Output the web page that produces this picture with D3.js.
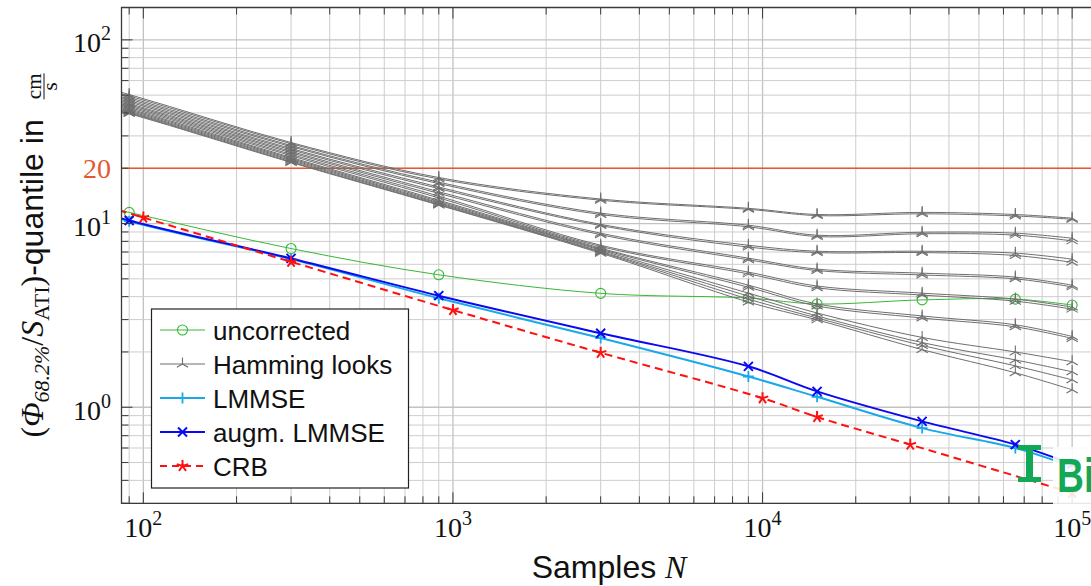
<!DOCTYPE html>
<html>
<head>
<meta charset="utf-8">
<script src="https://cdn.jsdelivr.net/npm/d3@7"></script>
<style>
  body { margin: 0; background: #fff; }
</style>
</head>
<body>
<svg id="canvas"></svg>
<script>
// sample counts
const samplesN   = [30, 90, 300, 900, 3000, 9000, 15000, 32768, 65536, 100000];
const samplesCRB = [30, 100, 300, 1000, 3000, 10000, 15000, 30000, 100000];

// series values (cm/s)
const uncorrected = [17.5, 11.5, 7.31, 5.26, 4.17, 3.93, 3.65, 3.84, 3.88, 3.60];
const lmmse       = [17.6, 10.3, 6.40, 3.92, 2.38, 1.47, 1.14, 0.77, 0.60, 0.475];
const augmLmmse   = [17.8, 10.4, 6.46, 4.05, 2.53, 1.67, 1.22, 0.838, 0.626, 0.49];
const crb         = [19.7, 10.78, 6.19, 3.38, 1.98, 1.12, 0.885, 0.626, 0.342];

const hammingLooks = [
    [83.7, 50.4, 27.6, 17.8, 13.6, 12.1, 11.2, 11.5, 11.2, 10.7],
    [82.2, 49.5, 27.2, 17.5, 13.4, 11.95, 11.05, 11.3, 11.0, 10.55],
    [80.5, 48.5, 26.6, 16.8, 11.4, 9.79, 8.64, 8.97, 8.86, 8.32],
    [79.0, 47.6, 26.2, 16.5, 11.2, 9.6, 8.5, 8.8, 8.65, 8.05],
    [77.5, 46.7, 25.6, 15.8, 9.9, 7.62, 7.07, 7.07, 6.9, 6.4],
    [76.2, 45.9, 25.2, 15.5, 9.75, 7.45, 6.95, 6.95, 6.7, 6.15],
    [74.7, 45.0, 24.7, 14.9, 8.86, 6.48, 5.65, 5.37, 5.11, 4.62],
    [73.5, 44.3, 24.3, 14.6, 8.7, 6.35, 5.55, 5.25, 5.0, 4.52],
    [72.4, 43.6, 23.8, 14.1, 7.62, 5.44, 4.57, 4.18, 3.88, 3.51],
    [71.2, 42.9, 23.4, 13.8, 7.5, 5.32, 4.47, 4.08, 3.78, 3.42],
    [70.1, 42.2, 22.9, 13.4, 7.34, 4.62, 3.65, 3.14, 2.81, 2.43],
    [69.1, 41.6, 22.6, 13.2, 7.25, 4.5, 3.56, 3.06, 2.74, 2.37],
    [68.1, 41.0, 22.3, 13.0, 7.16, 4.18, 3.26, 2.40, 2.0, 1.77],
    [67.2, 40.5, 22.0, 12.85, 7.05, 4.03, 3.14, 2.25, 1.81, 1.56],
    [66.6, 40.1, 21.7, 12.7, 6.98, 3.88, 3.06, 2.17, 1.68, 1.41],
    [65.9, 39.7, 21.5, 12.6, 6.9, 3.74, 2.99, 2.06, 1.54, 1.245]
];

// axes
const xTicks = [100, 1000, 10000, 100000];
const xTickExp = ["2", "3", "4", "5"];
const yTicks = [1, 10, 100];
const yTickExp = ["0", "1", "2"];
const threshold = 20;

const legendNames = ["uncorrected", "Hamming looks", "LMMSE", "augm. LMMSE", "CRB"];

const width = 1091,
    height = 586;

const serif = "'Liberation Serif', 'DejaVu Serif', serif";
const sans = "'Liberation Sans', Arial, sans-serif";

const svg = d3.select("#canvas")
    .attr("width", width)
    .attr("height", height)
    .style("display", "block");

const box = { left: 121.5, top: 7.5, bottom: 503.3, decade: 309.6 };

const scaleX = d3.scaleLog()
    .domain([85, 120000])
    .range([box.left, box.left + box.decade * Math.log10(120000 / 85)]);
const scaleY = d3.scaleLog()
    .domain([0.3, 150])
    .range([box.bottom, box.top]);

const [x0, x1] = scaleX.range();

svg.append("defs").append("clipPath").attr("id", "plotClip")
    .append("rect")
    .attr("x", x0).attr("y", box.top)
    .attr("width", x1 - x0).attr("height", box.bottom - box.top);

// grid
const xMinor = [], yMinor = [];
for (let d = 1; d <= 5; d++) for (let k = 2; k <= 9; k++) {
    const v = k * 10 ** d;
    if (v >= 85 && v <= 120000) xMinor.push(v);
}
for (let d = -1; d <= 2; d++) for (let k = 2; k <= 9; k++) {
    const v = k * 10 ** d;
    if (v > 0.3 && v < 150) yMinor.push(v);
}

const grid = svg.append("g").classed("grid", true);
grid.selectAll(".gx").data(xMinor.concat(xTicks)).join("line")
    .attr("x1", d => scaleX(d)).attr("x2", d => scaleX(d))
    .attr("y1", box.top).attr("y2", box.bottom)
    .attr("stroke", d => xTicks.includes(d) ? "#c2c2c2" : "#cdcdcd")
    .attr("stroke-width", d => xTicks.includes(d) ? 1.3 : 1);
grid.selectAll(".gy").data(yMinor.concat(yTicks)).join("line")
    .attr("y1", d => scaleY(d)).attr("y2", d => scaleY(d))
    .attr("x1", x0).attr("x2", x1)
    .attr("stroke", d => yTicks.includes(d) ? "#c2c2c2" : "#cdcdcd")
    .attr("stroke-width", d => yTicks.includes(d) ? 1.3 : 1);

// threshold line
svg.append("line")
    .attr("x1", x0).attr("x2", x1)
    .attr("y1", scaleY(threshold)).attr("y2", scaleY(threshold))
    .attr("stroke", "#e5582f").attr("stroke-width", 1.3);

// markers
function markerPath(type, r) {
    if (type === "merc") {
        const a = r * 0.866, b = r * 0.5;
        return `M0,0V${-r}M0,0L${-a},${b}M0,0L${a},${b}`;
    }
    if (type === "plus") return `M${-r},0H${r}M0,${-r}V${r}`;
    if (type === "cross") return `M${-r},${-r}L${r},${r}M${-r},${r}L${r},${-r}`;
    if (type === "star") {
        let p = "";
        for (let i = 0; i < 5; i++) {
            const ang = -Math.PI / 2 + i * 2 * Math.PI / 5;
            p += `M0,0L${(r * Math.cos(ang)).toFixed(2)},${(r * Math.sin(ang)).toFixed(2)}`;
        }
        return p;
    }
    return "";
}

function drawMarker(g, type, cx, cy, color, size, sw) {
    if (type === "circle") {
        g.append("circle").attr("cx", cx).attr("cy", cy).attr("r", size)
            .attr("fill", "none").attr("stroke", color).attr("stroke-width", sw);
    } else {
        g.append("path").attr("transform", `translate(${cx},${cy})`)
            .attr("d", markerPath(type, size))
            .attr("fill", "none").attr("stroke", color).attr("stroke-width", sw);
    }
}

const lineGen = d3.line()
    .x(d => scaleX(d[0]))
    .y(d => scaleY(d[1]))
    .curve(d3.curveCatmullRom.alpha(0.5));

const dataGroup = svg.append("g").attr("clip-path", "url(#plotClip)");

function drawSeries(xs, ys, style) {
    const pts = xs.map((n, i) => [n, ys[i]]);
    dataGroup.append("path")
        .attr("d", lineGen(pts))
        .attr("fill", "none")
        .attr("stroke", style.color)
        .attr("stroke-width", style.width)
        .attr("stroke-dasharray", style.dash || null);
    const mg = dataGroup.append("g");
    pts.forEach(p => drawMarker(mg, style.marker, scaleX(p[0]), scaleY(p[1]), style.color, style.size, style.mw));
}

const styles = {
    uncorrected: { color: "#36b836", width: 1, marker: "circle", size: 5, mw: 1.1 },
    hamming: { color: "#6e6e6e", width: 1, marker: "merc", size: 6.5, mw: 1.1 },
    lmmse: { color: "#1aa8ec", width: 2, marker: "plus", size: 5.5, mw: 1.8 },
    augm: { color: "#0a0af0", width: 2, marker: "cross", size: 4.5, mw: 2 },
    crb: { color: "#ff1010", width: 2, marker: "star", size: 6, mw: 2, dash: "8,5" }
};

drawSeries(samplesN, uncorrected, styles.uncorrected);
hammingLooks.forEach(vals => drawSeries(samplesN, vals, styles.hamming));
drawSeries(samplesN, lmmse, styles.lmmse);
drawSeries(samplesN, augmLmmse, styles.augm);
drawSeries(samplesCRB, crb, styles.crb);

// axis box and ticks
const axisColor = "#3a3a3a";
const ticks = svg.append("g").attr("stroke", axisColor);
xMinor.concat(xTicks).forEach(v => {
    const len = xTicks.includes(v) ? 11 : 7;
    ticks.append("line").attr("x1", scaleX(v)).attr("x2", scaleX(v))
        .attr("y1", box.bottom).attr("y2", box.bottom - len).attr("stroke-width", 1);
    ticks.append("line").attr("x1", scaleX(v)).attr("x2", scaleX(v))
        .attr("y1", box.top).attr("y2", box.top + len).attr("stroke-width", 1);
});
yMinor.concat(yTicks).forEach(v => {
    const len = yTicks.includes(v) ? 11 : 7;
    ticks.append("line").attr("y1", scaleY(v)).attr("y2", scaleY(v))
        .attr("x1", x0).attr("x2", x0 + len).attr("stroke-width", 1);
});
svg.append("path")
    .attr("d", `M${x1},${box.top}H${x0}V${box.bottom}H${x1}`)
    .attr("fill", "none").attr("stroke", axisColor).attr("stroke-width", 1.3);

// tick labels
xTicks.forEach((v, i) => {
    const t = svg.append("text")
        .attr("x", scaleX(v)).attr("y", 537)
        .attr("text-anchor", "middle")
        .attr("font-family", serif).attr("font-size", 28).attr("fill", "#111");
    t.append("tspan").text("10");
    t.append("tspan").attr("font-size", 20).attr("dy", -12).text(xTickExp[i]);
});
yTicks.forEach((v, i) => {
    const t = svg.append("text")
        .attr("x", 111).attr("y", scaleY(v) + 12.5)
        .attr("text-anchor", "end")
        .attr("font-family", serif).attr("font-size", 28).attr("fill", "#111");
    t.append("tspan").text("10");
    t.append("tspan").attr("font-size", 20).attr("dy", -12).text(yTickExp[i]);
});
svg.append("text")
    .attr("x", 111).attr("y", scaleY(threshold) + 9.5)
    .attr("text-anchor", "end")
    .attr("font-family", serif).attr("font-size", 28).attr("fill", "#e5582f")
    .text(threshold);

// x label
const xl = svg.append("text")
    .attr("x", (x0 + x1) / 2).attr("y", 578)
    .attr("text-anchor", "middle").attr("font-size", 32).attr("fill", "#111");
xl.append("tspan").attr("font-family", sans).text("Samples ");
xl.append("tspan").attr("font-family", serif).attr("font-style", "italic").text("N");

// y label
const midY = (box.top + box.bottom) / 2;
const yl = svg.append("g").attr("transform", `translate(43, ${midY}) rotate(-90)`);
const ylInner = yl.append("g");
const ylText = ylInner.append("text").attr("x", 0).attr("y", 0).attr("font-size", 32).attr("fill", "#111");
ylText.append("tspan").attr("font-family", serif).text("(");
ylText.append("tspan").attr("font-family", serif).attr("font-style", "italic").text("Φ");
ylText.append("tspan").attr("font-family", serif).attr("font-style", "italic").attr("font-size", 22).attr("dy", 6).text("68.2%");
ylText.append("tspan").attr("font-family", serif).attr("dy", -6).text("/");
ylText.append("tspan").attr("font-family", serif).attr("font-style", "italic").text("S");
ylText.append("tspan").attr("font-family", serif).attr("font-size", 22).attr("dy", 6).text("ATI");
ylText.append("tspan").attr("font-family", serif).attr("dy", -6).text(")");
ylText.append("tspan").attr("font-family", sans).text("-quantile in");
const textLen = ylText.node().getComputedTextLength();
const fracX = textLen + 20, fracW = 26;
ylInner.append("text").attr("x", fracX + fracW / 2).attr("y", -2)
    .attr("text-anchor", "middle").attr("font-family", serif).attr("font-size", 21).attr("fill", "#111").text("cm");
ylInner.append("line").attr("x1", fracX).attr("x2", fracX + fracW)
    .attr("y1", 1).attr("y2", 1).attr("stroke", "#111").attr("stroke-width", 1);
ylInner.append("text").attr("x", fracX + fracW / 2).attr("y", 14)
    .attr("text-anchor", "middle").attr("font-family", serif).attr("font-size", 21).attr("fill", "#111").text("s");
ylInner.attr("transform", `translate(${-(fracX + fracW) / 2}, 0)`);

// legend
const legend = { x: 151.5, y: 309, w: 257, h: 179, row0: 330, rowStep: 34 };
const lg = svg.append("g");
lg.append("rect")
    .attr("x", legend.x).attr("y", legend.y)
    .attr("width", legend.w).attr("height", legend.h)
    .attr("fill", "#fff").attr("stroke", "#222").attr("stroke-width", 1.2);
const legendStyles = [styles.uncorrected, styles.hamming, styles.lmmse, styles.augm, styles.crb];
legendNames.forEach((name, i) => {
    const s = legendStyles[i];
    const cy = legend.row0 + i * legend.rowStep;
    lg.append("line").attr("x1", 160).attr("x2", 205).attr("y1", cy).attr("y2", cy)
        .attr("stroke", s.color).attr("stroke-width", s.width)
        .attr("stroke-dasharray", s.dash ? "7,5" : null);
    drawMarker(lg, s.marker, 182.5, cy, s.color, s.size, s.mw);
    lg.append("text").attr("x", 213).attr("y", cy + 9.5)
        .attr("font-family", sans).attr("font-size", 26).attr("fill", "#111")
        .text(name);
});

// overlay badge in the bottom right corner (cut by the picture edge, as in the source)
const badge = svg.append("g");
badge.append("path")
    .attr("d", "M1018,445H1041V450H1033V477H1041V482H1018V477H1026V450H1018Z")
    .attr("fill", "#12a855");
badge.append("rect")
    .attr("x", 1053).attr("y", 447).attr("width", 40).attr("height", 57)
    .attr("fill", "#fff").attr("fill-opacity", 0.88);
badge.append("text")
    .attr("transform", "translate(1057,492) scale(0.76,1)")
    .attr("font-family", sans).attr("font-size", 49).attr("font-weight", "bold")
    .attr("fill", "#12a855")
    .text("Bi");
</script>
</body>
</html>
